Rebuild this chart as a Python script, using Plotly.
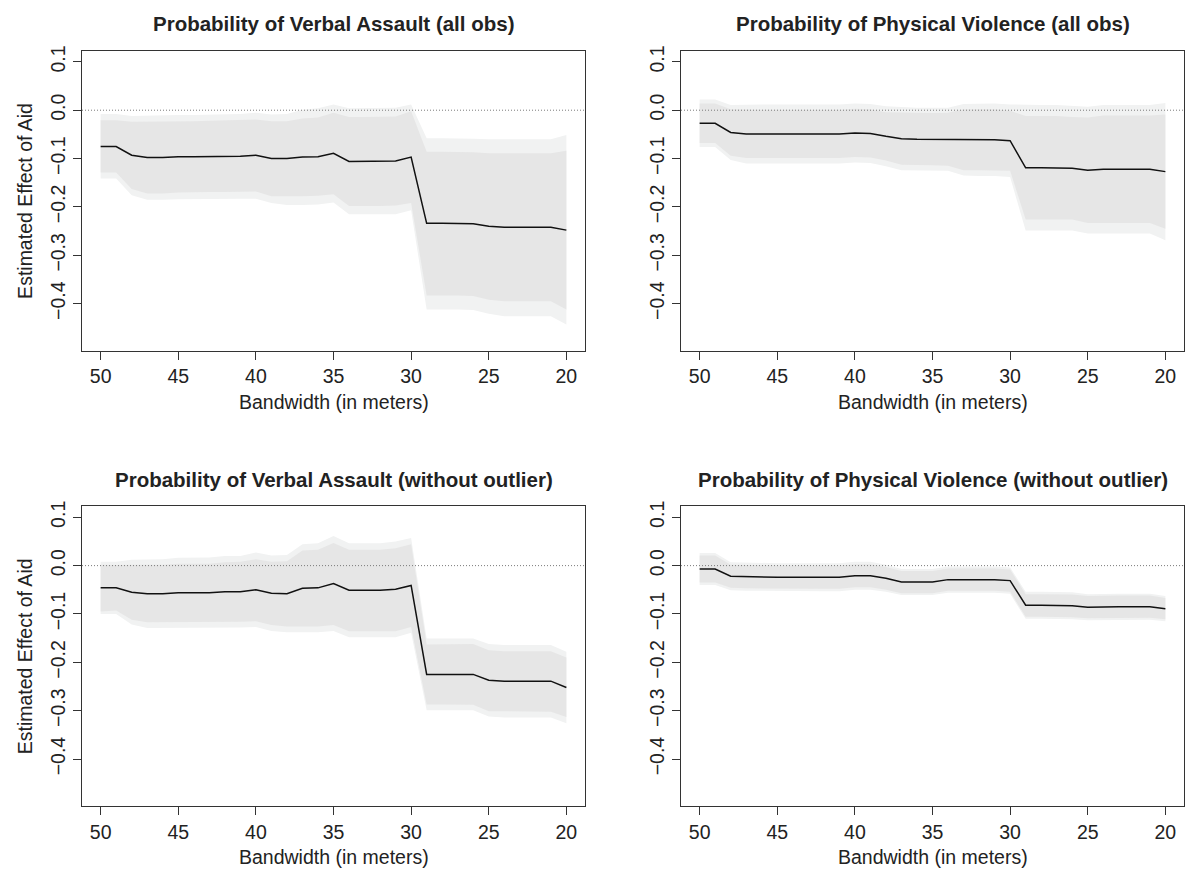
import plotly.graph_objects as go

# ---------------- data ----------------
bandwidth = [50, 49, 48, 47, 46, 45, 44, 43, 42, 41, 40, 39, 38, 37, 36, 35,
             34, 33, 32, 31, 30, 29, 28, 27, 26, 25, 24, 23, 22, 21, 20]

titles = ["Probability of Verbal Assault (all obs)",
          "Probability of Physical Violence (all obs)",
          "Probability of Verbal Assault (without outlier)",
          "Probability of Physical Violence (without outlier)"]

x_ticks = [50, 45, 40, 35, 30, 25, 20]
y_ticks = [-0.4, -0.3, -0.2, -0.1, 0.0, 0.1]
y_tick_labels = ["\u22120.4", "\u22120.3", "\u22120.2", "\u22120.1", "0.0", "0.1"]

# Panel 1: verbal assault, all obs
va_all_est = [-0.075, -0.075, -0.093, -0.098, -0.098, -0.096, -0.096, -0.096, -0.095, -0.095,
              -0.093, -0.100, -0.100, -0.097, -0.096, -0.089, -0.106, -0.106, -0.106, -0.105,
              -0.097, -0.234, -0.234, -0.234, -0.235, -0.240, -0.242, -0.242, -0.242, -0.242, -0.248]
va_all_in_hi = [-0.021, -0.021, -0.024, -0.024, -0.024, -0.023, -0.023, -0.022, -0.021, -0.021,
                -0.019, -0.023, -0.023, -0.017, -0.015, -0.005, -0.014, -0.014, -0.014, -0.013,
                -0.002, -0.086, -0.086, -0.086, -0.087, -0.089, -0.089, -0.089, -0.089, -0.089, -0.084]
va_all_in_lo = [-0.129, -0.129, -0.163, -0.172, -0.172, -0.170, -0.169, -0.169, -0.169, -0.169,
                -0.168, -0.178, -0.178, -0.178, -0.177, -0.174, -0.198, -0.198, -0.198, -0.197,
                -0.192, -0.383, -0.383, -0.383, -0.384, -0.392, -0.395, -0.395, -0.395, -0.395, -0.412]
va_all_out_hi = [-0.008, -0.008, -0.012, -0.011, -0.011, -0.010, -0.010, -0.009, -0.008, -0.008,
                 -0.005, -0.009, -0.008, 0.001, 0.004, 0.012, 0.004, 0.004, 0.004, 0.005,
                 0.012, -0.058, -0.058, -0.058, -0.059, -0.060, -0.060, -0.060, -0.060, -0.060, -0.051]
va_all_out_lo = [-0.141, -0.141, -0.176, -0.185, -0.185, -0.184, -0.183, -0.183, -0.183, -0.183,
                 -0.183, -0.192, -0.196, -0.196, -0.195, -0.191, -0.215, -0.215, -0.215, -0.215,
                 -0.207, -0.412, -0.412, -0.412, -0.413, -0.421, -0.426, -0.426, -0.426, -0.426, -0.443]

# Panel 2: physical violence, all obs
pv_all_est = [-0.027, -0.027, -0.046, -0.049, -0.049, -0.049, -0.049, -0.049, -0.049, -0.049,
              -0.047, -0.048, -0.054, -0.059, -0.060, -0.060, -0.060, -0.061, -0.061, -0.061,
              -0.063, -0.119, -0.119, -0.119, -0.120, -0.124, -0.122, -0.122, -0.122, -0.122, -0.127]
pv_all_in_hi = [0.014, 0.014, 0.002, 0.001, 0.001, 0.001, 0.001, 0.001, 0.001, 0.001,
                0.003, 0.002, -0.004, -0.005, -0.006, -0.006, -0.005, 0.002, 0.002, 0.002,
                -0.001, -0.012, -0.012, -0.012, -0.014, -0.015, -0.011, -0.011, -0.011, -0.011, -0.009]
pv_all_in_lo = [-0.068, -0.068, -0.094, -0.099, -0.099, -0.099, -0.099, -0.099, -0.099, -0.099,
                -0.097, -0.098, -0.104, -0.113, -0.114, -0.114, -0.115, -0.124, -0.124, -0.124,
                -0.125, -0.226, -0.226, -0.226, -0.226, -0.233, -0.233, -0.233, -0.233, -0.233, -0.245]
pv_all_out_hi = [0.022, 0.022, 0.011, 0.012, 0.012, 0.012, 0.012, 0.012, 0.012, 0.012,
                 0.014, 0.013, 0.008, 0.006, 0.005, 0.005, 0.005, 0.013, 0.014, 0.014,
                 0.012, 0.011, 0.011, 0.011, 0.009, 0.007, 0.011, 0.011, 0.011, 0.011, 0.015]
pv_all_out_lo = [-0.076, -0.076, -0.103, -0.110, -0.110, -0.110, -0.110, -0.110, -0.110, -0.110,
                 -0.108, -0.109, -0.116, -0.124, -0.125, -0.125, -0.125, -0.135, -0.136, -0.136,
                 -0.138, -0.249, -0.249, -0.249, -0.249, -0.255, -0.255, -0.255, -0.255, -0.255, -0.269]

# Panel 3: verbal assault, without outlier
va_wo_est = [-0.046, -0.046, -0.055, -0.058, -0.058, -0.056, -0.056, -0.056, -0.054, -0.054,
             -0.050, -0.057, -0.058, -0.047, -0.046, -0.037, -0.051, -0.051, -0.051, -0.049,
             -0.041, -0.225, -0.225, -0.225, -0.225, -0.237, -0.239, -0.239, -0.239, -0.239, -0.252]
va_wo_in_hi = [0.002, 0.001, 0.002, 0.002, 0.002, 0.004, 0.004, 0.004, 0.007, 0.008,
               0.013, 0.008, 0.009, 0.031, 0.033, 0.047, 0.033, 0.033, 0.033, 0.036,
               0.044, -0.163, -0.163, -0.163, -0.162, -0.175, -0.177, -0.177, -0.177, -0.177, -0.190]
va_wo_in_lo = [-0.095, -0.093, -0.112, -0.117, -0.117, -0.116, -0.116, -0.116, -0.116, -0.116,
               -0.115, -0.123, -0.126, -0.126, -0.126, -0.123, -0.136, -0.136, -0.136, -0.136,
               -0.127, -0.287, -0.287, -0.287, -0.288, -0.301, -0.302, -0.302, -0.302, -0.302, -0.313]
va_wo_out_hi = [0.008, 0.008, 0.012, 0.013, 0.013, 0.016, 0.016, 0.017, 0.020, 0.020,
                0.027, 0.021, 0.022, 0.044, 0.046, 0.061, 0.046, 0.046, 0.046, 0.050,
                0.057, -0.151, -0.151, -0.151, -0.151, -0.162, -0.164, -0.164, -0.164, -0.164, -0.178]
va_wo_out_lo = [-0.100, -0.100, -0.122, -0.129, -0.128, -0.128, -0.128, -0.128, -0.128, -0.128,
                -0.127, -0.135, -0.138, -0.138, -0.138, -0.135, -0.148, -0.148, -0.148, -0.148,
                -0.139, -0.299, -0.299, -0.299, -0.299, -0.312, -0.314, -0.314, -0.314, -0.314, -0.326]

# Panel 4: physical violence, without outlier
pv_wo_est = [-0.007, -0.007, -0.022, -0.023, -0.024, -0.024, -0.024, -0.024, -0.024, -0.024,
             -0.021, -0.021, -0.026, -0.034, -0.034, -0.034, -0.029, -0.029, -0.029, -0.029,
             -0.031, -0.082, -0.082, -0.082, -0.083, -0.086, -0.085, -0.085, -0.085, -0.085, -0.089]
pv_wo_in_hi = [0.021, 0.021, 0.002, 0.001, 0.000, 0.000, 0.000, 0.000, 0.000, 0.000,
               0.003, 0.003, -0.003, -0.011, -0.011, -0.011, -0.006, -0.006, -0.006, -0.006,
               -0.008, -0.059, -0.059, -0.059, -0.060, -0.063, -0.062, -0.062, -0.062, -0.062, -0.067]
pv_wo_in_lo = [-0.035, -0.035, -0.046, -0.047, -0.048, -0.048, -0.048, -0.048, -0.048, -0.048,
               -0.045, -0.045, -0.050, -0.057, -0.057, -0.057, -0.052, -0.052, -0.052, -0.052,
               -0.054, -0.106, -0.106, -0.106, -0.107, -0.109, -0.108, -0.108, -0.108, -0.108, -0.111]
pv_wo_out_hi = [0.026, 0.026, 0.007, 0.006, 0.005, 0.005, 0.005, 0.005, 0.005, 0.005,
                0.008, 0.008, 0.002, -0.007, -0.007, -0.007, -0.002, -0.002, -0.002, -0.002,
                -0.004, -0.054, -0.054, -0.054, -0.055, -0.059, -0.058, -0.058, -0.058, -0.058, -0.063]
pv_wo_out_lo = [-0.040, -0.040, -0.051, -0.052, -0.053, -0.053, -0.053, -0.053, -0.053, -0.053,
                -0.050, -0.050, -0.054, -0.061, -0.061, -0.061, -0.056, -0.056, -0.056, -0.056,
                -0.058, -0.110, -0.110, -0.110, -0.111, -0.113, -0.112, -0.112, -0.112, -0.112, -0.115]

panels = [
    (va_all_est, va_all_in_lo, va_all_in_hi, va_all_out_lo, va_all_out_hi),
    (pv_all_est, pv_all_in_lo, pv_all_in_hi, pv_all_out_lo, pv_all_out_hi),
    (va_wo_est, va_wo_in_lo, va_wo_in_hi, va_wo_out_lo, va_wo_out_hi),
    (pv_wo_est, pv_wo_in_lo, pv_wo_in_hi, pv_wo_out_lo, pv_wo_out_hi),
]

# ---------------- layout ----------------
W, H = 1185, 878
FONT = "Liberation Sans, Arial, Helvetica, sans-serif"
TXT = "#222222"
OUTER_COL = "#f1f2f2"
INNER_COL = "#e6e6e6"
TICK_SIZE = 19.5
LAB_SIZE = 19.5
MAIN_SIZE = 20.5

cols_px = [(82, 585), (681, 1184)]
rows_px = [(46, 348), (504, 806)]
x_range = [51.2, 18.8]
y_range = [-0.498, 0.123]


def fx(px):
    return px / W


def fy(py):
    return 1 - py / H


fig = go.Figure()
annotations = []

for i, (est, in_lo, in_hi, out_lo, out_hi) in enumerate(panels):
    r, c = divmod(i, 2)
    sfx = "" if i == 0 else str(i + 1)
    xa, ya = "x" + sfx, "y" + sfx
    x0, x1 = cols_px[c]
    y0, y1 = rows_px[r]

    poly_x = bandwidth + bandwidth[::-1]
    fig.add_trace(go.Scatter(x=poly_x, y=out_hi + out_lo[::-1], fill="toself",
                             fillcolor=OUTER_COL, line=dict(width=0), mode="lines",
                             hoverinfo="skip", xaxis=xa, yaxis=ya))
    fig.add_trace(go.Scatter(x=poly_x, y=in_hi + in_lo[::-1], fill="toself",
                             fillcolor=INNER_COL, line=dict(width=0), mode="lines",
                             hoverinfo="skip", xaxis=xa, yaxis=ya))
    fig.add_trace(go.Scatter(x=x_range, y=[0, 0], mode="lines",
                             line=dict(color="#7a7a7a", width=1, dash="1px,2px"),
                             hoverinfo="skip", xaxis=xa, yaxis=ya))
    fig.add_trace(go.Scatter(x=bandwidth, y=est, mode="lines",
                             line=dict(color="#111111", width=1.5),
                             xaxis=xa, yaxis=ya))

    axis_common = dict(showline=True, mirror=True, linecolor="#333333", linewidth=1,
                       ticks="outside", ticklen=8, tickcolor="#333333", tickwidth=1,
                       showgrid=False, zeroline=False,
                       tickfont=dict(family=FONT, size=TICK_SIZE, color=TXT))
    fig.layout["xaxis" + sfx] = dict(domain=[fx(x0), fx(x1)], range=x_range,
                                     anchor=ya, tickmode="array", tickvals=x_ticks,
                                     ticktext=[str(v) for v in x_ticks], **axis_common)
    fig.layout["yaxis" + sfx] = dict(domain=[fy(y1), fy(y0)], range=y_range,
                                     anchor=xa, tickmode="array", tickvals=y_ticks,
                                     ticktext=y_tick_labels, tickangle=-90, **axis_common)

    cx = (x0 + x1) / 2
    annotations.append(dict(text="<b>" + titles[i] + "</b>", x=fx(cx), y=fy(y0 - 27),
                            xref="paper", yref="paper", showarrow=False,
                            xanchor="center", yanchor="middle",
                            font=dict(family=FONT, size=MAIN_SIZE, color=TXT)))
    annotations.append(dict(text="Bandwidth (in meters)", x=fx(cx), y=fy(y1 + 51),
                            xref="paper", yref="paper", showarrow=False,
                            xanchor="center", yanchor="middle",
                            font=dict(family=FONT, size=LAB_SIZE, color=TXT)))
    if c == 0:
        annotations.append(dict(text="Estimated Effect of Aid", x=fx(x0 - 57),
                                y=fy((y0 + y1) / 2), textangle=-90,
                                xref="paper", yref="paper", showarrow=False,
                                xanchor="center", yanchor="middle",
                                font=dict(family=FONT, size=LAB_SIZE, color=TXT)))

fig.update_layout(width=W, height=H, margin=dict(l=0, r=0, t=0, b=0),
                  paper_bgcolor="white", plot_bgcolor="white", showlegend=False,
                  annotations=annotations)

fig.write_html("out.html")
